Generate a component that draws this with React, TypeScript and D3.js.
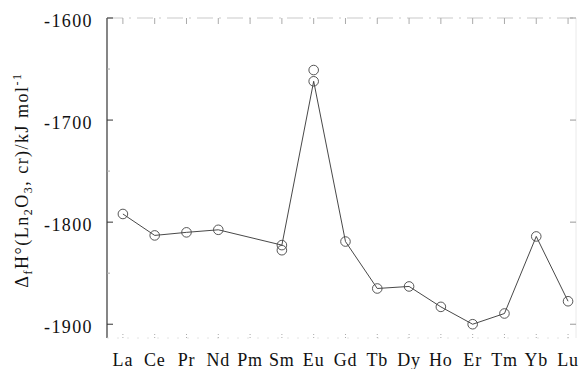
import React from 'react';
import * as d3 from 'd3';

const elements = ['La', 'Ce', 'Pr', 'Nd', 'Pm', 'Sm', 'Eu', 'Gd', 'Tb', 'Dy', 'Ho', 'Er', 'Tm', 'Yb', 'Lu'];
// enthalpy of formation per element (null = no value for Pm)
const enthalpy: (number | null)[] = [-1792, -1813, -1810, -1807.5, null, -1822.5, -1662, -1819, -1865, -1863, -1883, -1900, -1889.5, -1814, -1877.5];
// second measured values shown as extra circles
const extraElements = ['Sm', 'Eu'];
const extraValues = [-1827.5, -1651];
const yTicks = [-1600, -1700, -1800, -1900];
const yMinor = [-1650, -1750, -1850];

export default function App() {
  const width = 582;
  const height = 369;
  const left = 107, right = 576, top = 18, bottom = 338;

  const x = d3.scaleLinear().domain([-0.5, 14.25]).range([left, right]);
  const y = d3.scaleLinear().domain([-1600, -1913.5]).range([top, bottom]);

  const pts = elements
    .map((e, i) => ({ i, v: enthalpy[i] }))
    .filter(d => d.v !== null) as { i: number; v: number }[];

  const line = d3.line<{ i: number; v: number }>()
    .x(d => x(d.i))
    .y(d => y(d.v));

  const txt = { fontFamily: "'Liberation Serif', 'Times New Roman', serif", fontSize: 18, fill: '#111' };

  return (
    <svg width={width} height={height} style={{ position: 'absolute', left: 0, top: 0, background: '#fff' }}>
      {/* frame: left axis solid, others faint as in the scan */}
      <line x1={left} x2={left} y1={top} y2={bottom} stroke="#222" strokeWidth={1.1} />
      <line x1={left} x2={right} y1={top} y2={top} stroke="#bbb" strokeWidth={0.8} strokeDasharray="16 6 2 6" />
      <line x1={right} x2={right} y1={top} y2={bottom} stroke="#e4e4e4" strokeWidth={0.8} />
      <line x1={left} x2={right} y1={bottom} y2={bottom} stroke="#ddd" strokeWidth={0.8} strokeDasharray="2 8" />

      {yTicks.map(t => (
        <g key={t}>
          <line x1={left} x2={left + 6} y1={y(t)} y2={y(t)} stroke="#333" />
          <line x1={right} x2={right - 6} y1={y(t)} y2={y(t)} stroke="#999" />
          <text x={left - 14} y={y(t)} dy="0.5em" textAnchor="end" letterSpacing={1.4} style={txt}>
            {t}
          </text>
        </g>
      ))}
      {yMinor.map(t => (
        <line key={t} x1={left} x2={left + 3} y1={y(t)} y2={y(t)} stroke="#aaa" />
      ))}

      {elements.map((e, i) => (
        <g key={e}>
          <line x1={x(i)} x2={x(i)} y1={bottom} y2={bottom - 5} stroke="#aaa" strokeDasharray="1 2" />
          <line x1={x(i)} x2={x(i)} y1={top} y2={top + 6} stroke="#aaa" />
          <text x={x(i)} y={366} textAnchor="middle" letterSpacing={0.8} style={txt}>
            {e}
          </text>
        </g>
      ))}

      <path d={line(pts) || ''} fill="none" stroke="#333" strokeWidth={0.9} />
      {pts.map(d => (
        <circle key={d.i} cx={x(d.i)} cy={y(d.v)} r={4.8} fill="none" stroke="#444" strokeWidth={0.9} />
      ))}
      {extraElements.map((e, k) => (
        <circle key={e} cx={x(elements.indexOf(e))} cy={y(extraValues[k])} r={4.8} fill="none" stroke="#444" strokeWidth={0.9} />
      ))}

      <text transform="translate(28, 180) rotate(-90)" textAnchor="middle" letterSpacing={1.5} style={txt}>
        Δ<tspan fontSize={12} dy={4}>f</tspan>
        <tspan dy={-4}>H°(Ln</tspan>
        <tspan fontSize={12} dy={4}>2</tspan>
        <tspan dy={-4}>O</tspan>
        <tspan fontSize={12} dy={4}>3</tspan>
        <tspan dy={-4}>, cr)/kJ mol</tspan>
        <tspan fontSize={12} dy={-7}>-1</tspan>
      </text>
    </svg>
  );
}
